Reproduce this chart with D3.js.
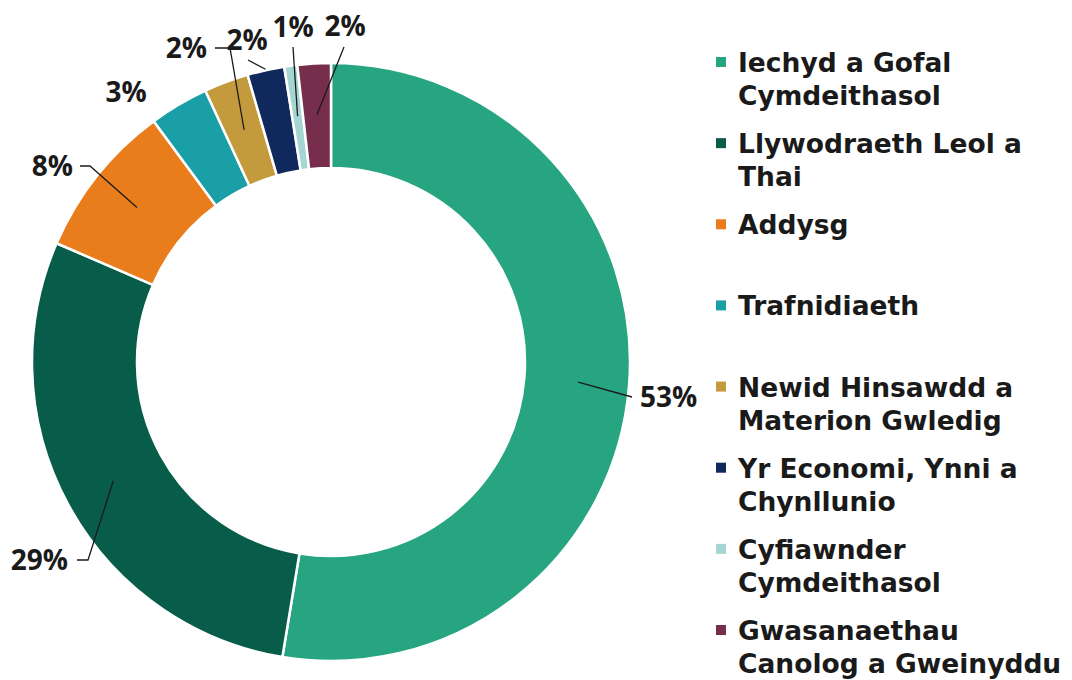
<!DOCTYPE html>
<html>
<head>
<meta charset="utf-8">
<script src="https://cdn.jsdelivr.net/npm/d3@7"></script>
<style>
  body { margin: 0; background: #fff; }
  text { font-family: "Open Sans", "DejaVu Sans", sans-serif; font-weight: 700; fill: #1a1a1a; }
  text.legend { font-family: "DejaVu Sans", sans-serif; }
</style>
</head>
<body>
<svg id="chart" width="1072" height="680"></svg>
<script>
// ---- data ----
var categories = [
  "Iechyd a Gofal Cymdeithasol",
  "Llywodraeth Leol a Thai",
  "Addysg",
  "Trafnidiaeth",
  "Newid Hinsawdd a Materion Gwledig",
  "Yr Economi, Ynni a Chynllunio",
  "Cyfiawnder Cymdeithasol",
  "Gwasanaethau Canolog a Gweinyddu"
];
// legend line breaks as in the original
var legendLines = [
  ["Iechyd a Gofal", "Cymdeithasol"],
  ["Llywodraeth Leol a", "Thai"],
  ["Addysg"],
  ["Trafnidiaeth"],
  ["Newid Hinsawdd a", "Materion Gwledig"],
  ["Yr Economi, Ynni a", "Chynllunio"],
  ["Cyfiawnder", "Cymdeithasol"],
  ["Gwasanaethau", "Canolog a Gweinyddu"]
];
var values = [52.6, 28.9, 8.4, 3.2, 2.4, 2.0, 0.7, 1.8];
var colours = ["#27a580", "#075c4a", "#e97d1c", "#1a9fa6", "#c39a3c", "#10295c", "#a6d6d3", "#772e4c"];

// label placement (relative to donut centre): leader elbow/end and text anchor
var labelLayout = [
  { startR: 248, pts: [[301, 35]], text: [309, 35], anchor: "start" },
  { startR: 248, pts: [[-243, 198], [-254, 198]], text: [-263, 198], anchor: "end" },
  { startR: 248, pts: [[-241, -196], [-251, -196]], text: [-258, -196], anchor: "end" },
  { startR: null, pts: [], text: [-205, -270], anchor: "middle" },
  { startR: 248, pts: [[-101, -314], [-116, -314]], text: [-124, -314], anchor: "end" },
  { startR: 300, pts: [[-83, -302]], text: [-84, -322], anchor: "middle" },
  { startR: 248, pts: [[-38, -315]], text: [-38, -335], anchor: "middle" },
  { startR: 248, pts: [[13, -315]], text: [14, -336], anchor: "middle" }
];

var svg = d3.select("#chart");
var cx = 331, cy = 362;
var outerR = 299, innerR = 194;

var g = svg.append("g").attr("transform", "translate(" + cx + "," + cy + ")");

var pie = d3.pie().sort(null).value(function(d) { return d; });
var arcs = pie(values);

var arc = d3.arc().innerRadius(innerR).outerRadius(outerR);

g.selectAll("path.slice")
  .data(arcs)
  .enter()
  .append("path")
  .attr("class", "slice")
  .attr("d", arc)
  .attr("fill", function(d, i) { return colours[i]; })
  .attr("stroke", "#fff")
  .attr("stroke-width", 2.5);

// leader lines + percentage labels
var line = d3.line();
arcs.forEach(function(d, i) {
  var lay = labelLayout[i];
  if (lay.startR !== null) {
    var mid = (d.startAngle + d.endAngle) / 2;
    var start = [lay.startR * Math.sin(mid), -lay.startR * Math.cos(mid)];
    g.append("path")
      .attr("d", line([start].concat(lay.pts)))
      .attr("fill", "none")
      .attr("stroke", "#1a1a1a")
      .attr("stroke-width", 1.3);
  }
  g.append("text")
    .attr("x", lay.text[0])
    .attr("y", lay.text[1])
    .attr("dy", "0.36em")
    .attr("text-anchor", lay.anchor)
    .attr("font-size", "28px")
    .text(Math.round(d.data) + "%");
});

// legend
var ly = d3.scaleLinear().domain([0, categories.length - 1]).range([72, 640]);
var legend = svg.append("g");
categories.forEach(function(c, i) {
  var item = legend.append("g").attr("transform", "translate(0," + ly(i) + ")");
  item.append("rect")
    .attr("x", 716).attr("y", -15)
    .attr("width", 10).attr("height", 10)
    .attr("fill", colours[i]);
  legendLines[i].forEach(function(l, j) {
    item.append("text")
      .attr("class", "legend")
      .attr("x", 738).attr("y", j * 33)
      .attr("font-size", "26.5px")
      .text(l);
  });
});
</script>
</body>
</html>
